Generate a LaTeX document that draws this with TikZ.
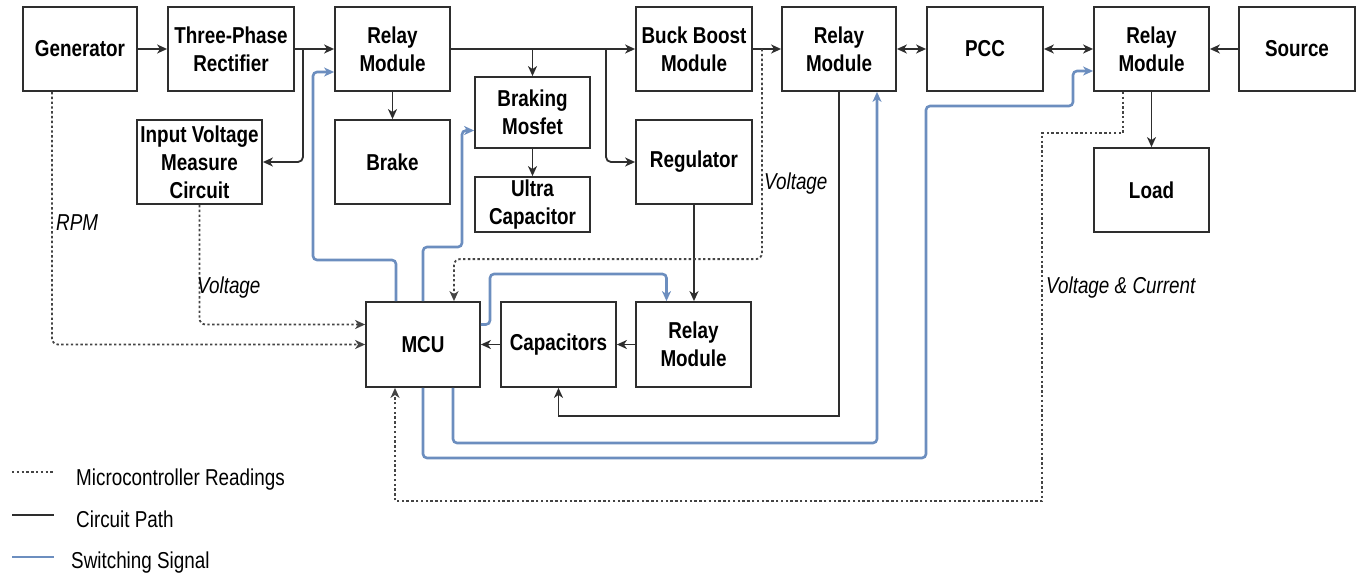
\documentclass[tikz,border=0pt]{standalone}
\usepackage{fontspec}
\setmainfont{Liberation Sans}[FakeStretch=0.82]
\usetikzlibrary{arrows.meta,calc}
\definecolor{edge}{HTML}{2E2E2E}
\definecolor{sig}{HTML}{6C8EBF}
\definecolor{readc}{HTML}{444444}
\tikzset{
  block/.style={draw=edge, line width=1.8pt, fill=white, inner sep=0pt,
    align=center, text=black, font=\fontsize{23}{28}\selectfont\bfseries},
  size/.style 2 args={minimum width=#1pt, minimum height=#2pt},
  tip/.style={-{Stealth[length=10pt,width=9pt,inset=3pt]}},
  power/.style={draw=edge, line width=1.8pt, tip, rounded corners=5pt},
  twoway/.style={draw=edge, line width=1.8pt,
    {Stealth[length=10pt,width=9pt,inset=3pt]}-{Stealth[length=10pt,width=9pt,inset=3pt]}},
  reading/.style={draw=readc, line width=1.8pt, dash pattern=on 2.4pt off 2.4pt,
    tip, rounded corners=6pt},
  switching/.style={draw=sig, line width=2.6pt, tip, rounded corners=4pt},
  note/.style={font=\fontsize{23}{28}\selectfont\itshape, anchor=base west, inner sep=0pt},
  legend/.style={font=\fontsize{23}{28}\selectfont, anchor=base west, inner sep=0pt},
}
\begin{document}
\begin{tikzpicture}[x=1pt, y=-1pt]
\useasboundingbox (0,0) rectangle (1361,576);

% ---- blocks ----
\node[block, size={114}{84}] (gen)  at (80,49)      {Generator};
\node[block, size={126}{84}] (rect) at (231,49)     {Three-Phase\\Rectifier};
\node[block, size={115}{84}] (rel1) at (392.5,49)   {Relay\\Module};
\node[block, size={125}{84}] (ivm)  at (199.5,162)  {Input Voltage\\Measure\\Circuit};
\node[block, size={115}{84}] (brake) at (392.5,162) {Brake};
\node[block, size={115}{71}] (bmos) at (532.5,112.5) {Braking\\Mosfet};
\node[block, size={115}{55}] (ucap) at (532.5,204.5) {Ultra\\Capacitor};
\node[block, size={116}{84}] (buck) at (694,49)     {Buck Boost\\Module};
\node[block, size={116}{84}] (reg)  at (694,162)    {Regulator};
\node[block, size={114}{84}] (rel2) at (839,49)     {Relay\\Module};
\node[block, size={116}{84}] (pcc)  at (985,49)     {PCC};
\node[block, size={115}{84}] (rel3) at (1151.5,49)  {Relay\\Module};
\node[block, size={116}{84}] (src)  at (1297,49)    {Source};
\node[block, size={115}{84}] (load) at (1151.5,190) {Load};
\node[block, size={114}{85}] (mcu)  at (423,344.5)  {MCU};
\node[block, size={115}{85}] (caps) at (558.5,344.5) {Capacitors};
\node[block, size={115}{85}] (rel4) at (693.5,344.5) {Relay\\Module};

% ---- circuit path ----
\draw[power] (gen) -- (rect);
\draw[power] (rect) -- (rel1);
\coordinate (j1) at (303,49);
\draw[power] (j1) |- (ivm.east);
\draw[power] (rel1) -- (brake);
\draw[power] (rel1) -- (buck);
\coordinate (j2) at (bmos.north |- rel1.east);
\draw[power] (j2) -- (bmos.north);
\coordinate (j3) at (606,49);
\draw[power] (j3) |- (reg.west);
\draw[power] (bmos) -- (ucap);
\draw[power] (buck) -- (rel2);
\draw[twoway] (rel2) -- (pcc);
\draw[twoway] (pcc) -- (rel3);
\draw[power] (src) -- (rel3);
\draw[power] (rel3) -- (load);
\draw[power] (reg.south) -- (reg.south |- rel4.north);
\draw[power] (rel4) -- (caps);
\draw[power] (caps) -- (mcu);
\draw[power, rounded corners=0pt] (rel2.south) |- ($(caps.south)+(0,28)$) -- (caps.south);

% ---- microcontroller readings ----
\draw[reading] ($(gen.south)+(-28,0)$) |- (mcu.west);
\draw[reading] (ivm.south) |- ($(mcu.west)+(0,-20)$);
\coordinate (j4) at (762,49);
\draw[reading] (j4) |- ($(mcu.north)+(31,-42)$) -- ($(mcu.north)+(31,0)$);
\draw[reading, rounded corners=0pt] ($(rel3.south)+(-28.5,0)$) |- (1042,133)
  |- ($(mcu.south)+(-28,113)$) -- ($(mcu.south)+(-28,0)$);

% ---- switching signals ----
\draw[switching] ($(mcu.north)+(-27,0)$) |- (313,260) |- ($(rel1.west)+(0,23)$);
\draw[switching] (mcu.north) |- (462,247) |- ($(bmos.west)+(0,18)$);
\draw[switching] ($(mcu.east)+(0,-20)$) -| (490,274) -| ($(rel4.north)+(-27,0)$);
\draw[switching] ($(mcu.south)+(30,0)$) |- (877,443) -- ($(rel2.south)+(38,0)$);
\draw[switching] (mcu.south) |- (926,458) |- (1073,106) |- ($(rel3.west)+(0,22)$);

% ---- signal labels ----
\node[note] (rpm) at (56,230)   {RPM};
\node[note] (v1)  at (197,293)  {Voltage};
\node[note] (v2)  at (764,189)  {Voltage};
\node[note] (vc)  at (1046,293) {Voltage \& Current};

% ---- legend ----
\draw[reading, -] (12,472) -- (53,472);
\node[legend] (l1) at (76,485) {Microcontroller Readings};
\draw[power, -] (12,515) -- (54,515);
\node[legend] (l2) at (76,527) {Circuit Path};
\draw[switching, -] (12,557) -- (54,557);
\node[legend] (l3) at (71,568) {Switching Signal};
\end{tikzpicture}
\end{document}
